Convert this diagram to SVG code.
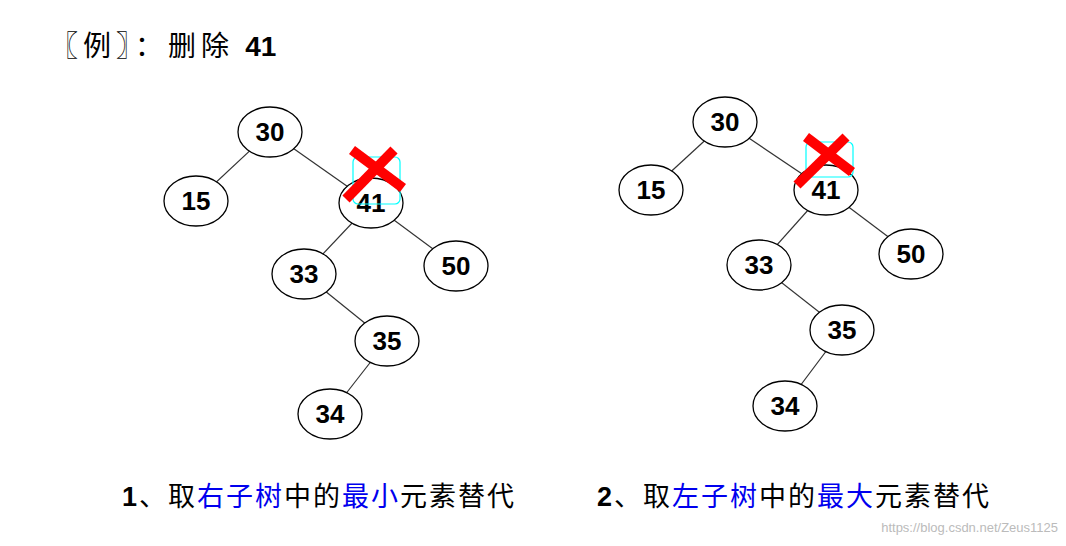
<svg xmlns="http://www.w3.org/2000/svg" width="1066" height="546" viewBox="0 0 1066 546">
<style>
.n ellipse{fill:#fff;stroke:#000;stroke-width:1.3}
.n text{font-family:"Liberation Sans",Arial,sans-serif;font-weight:bold;font-size:26px;text-anchor:middle}
.e line{stroke:#333;stroke-width:1.2}
.t{font-family:"Liberation Sans","Noto Sans CJK SC",sans-serif;font-size:27px;letter-spacing:2px}
.b{fill:#0000ee}
.x{stroke:#f00;stroke-width:10}
.c{fill:none;stroke:#0ff;stroke-width:1.2}
</style>
<rect width="1066" height="546" fill="#fff"/>
<text x="50" y="56" font-family="Noto Sans CJK SC,sans-serif" font-size="28" letter-spacing="5" fill="#000">〖例〗：删除 <tspan font-family="Liberation Sans,sans-serif" font-weight="bold" letter-spacing="0">41</tspan></text>
<g class="e">
<line x1="270" y1="132" x2="196" y2="201"/><line x1="270" y1="132" x2="371" y2="203"/>
<line x1="371" y1="203" x2="304" y2="274"/><line x1="371" y1="203" x2="456" y2="266"/>
<line x1="304" y1="274" x2="387" y2="341"/><line x1="387" y1="341" x2="330" y2="414"/>
<line x1="725" y1="122" x2="651" y2="190"/><line x1="725" y1="122" x2="826" y2="190"/>
<line x1="826" y1="190" x2="759" y2="265"/><line x1="826" y1="190" x2="911" y2="254"/>
<line x1="759" y1="265" x2="842" y2="330"/><line x1="842" y1="330" x2="785" y2="406"/>
</g>
<g id="L30" class="n"><ellipse cx="270" cy="132" rx="32" ry="25"/><text x="270" y="141">30</text></g>
<g id="L15" class="n"><ellipse cx="196" cy="201" rx="32" ry="25"/><text x="196" y="210">15</text></g>
<g id="L41" class="n"><ellipse cx="371" cy="203" rx="32" ry="25"/><text x="371" y="212">41</text></g>
<g id="L33" class="n"><ellipse cx="304" cy="274" rx="32" ry="25"/><text x="304" y="283">33</text></g>
<g id="L50" class="n"><ellipse cx="456" cy="266" rx="32" ry="25"/><text x="456" y="275">50</text></g>
<g id="L35" class="n"><ellipse cx="387" cy="341" rx="32" ry="25"/><text x="387" y="350">35</text></g>
<g id="L34" class="n"><ellipse cx="330" cy="414" rx="32" ry="25"/><text x="330" y="423">34</text></g>
<g id="R30" class="n"><ellipse cx="725" cy="122" rx="32" ry="25"/><text x="725" y="131">30</text></g>
<g id="R15" class="n"><ellipse cx="651" cy="190" rx="32" ry="25"/><text x="651" y="199">15</text></g>
<g id="R41" class="n"><ellipse cx="826" cy="190" rx="32" ry="25"/><text x="826" y="199">41</text></g>
<g id="R33" class="n"><ellipse cx="759" cy="265" rx="32" ry="25"/><text x="759" y="274">33</text></g>
<g id="R50" class="n"><ellipse cx="911" cy="254" rx="32" ry="25"/><text x="911" y="263">50</text></g>
<g id="R35" class="n"><ellipse cx="842" cy="330" rx="32" ry="25"/><text x="842" y="339">35</text></g>
<g id="R34" class="n"><ellipse cx="785" cy="406" rx="32" ry="25"/><text x="785" y="415">34</text></g>
<rect class="c" x="353" y="157" width="47" height="47" rx="5"/>
<line class="x" x1="352" y1="150" x2="403" y2="188"/><line class="x" x1="394" y1="150" x2="346" y2="199"/>
<rect class="c" x="806" y="142" width="47" height="35" rx="5"/>
<line class="x" x1="806" y1="137" x2="852" y2="172"/><line class="x" x1="846" y1="137" x2="797" y2="185"/>
<text class="t" x="122" y="506"><tspan font-weight="bold">1</tspan>、取<tspan class="b">右子树</tspan>中的<tspan class="b">最小</tspan>元素替代</text>
<text class="t" x="597" y="506"><tspan font-weight="bold">2</tspan>、取<tspan class="b">左子树</tspan>中的<tspan class="b">最大</tspan>元素替代</text>
<text x="1058" y="532" text-anchor="end" font-family="Liberation Sans,sans-serif" font-size="13" fill="#bbb">https://blog.csdn.net/Zeus1125</text>
</svg>
